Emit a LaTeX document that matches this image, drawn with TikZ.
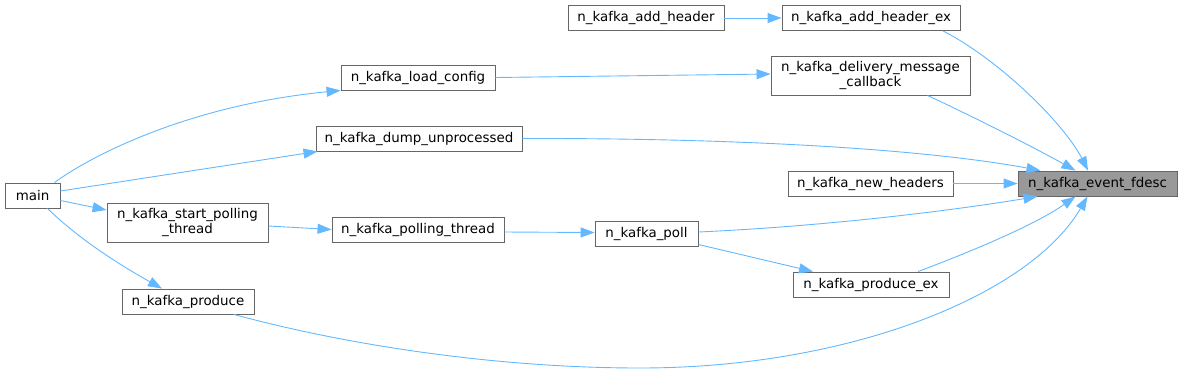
\documentclass[tikz,border=0pt]{standalone}
\usepackage{fontspec}
\setmainfont{DejaVu Sans}
\usetikzlibrary{arrows.meta,calc}
\definecolor{edgeblue}{HTML}{63B8FF}
\definecolor{boxborder}{HTML}{666666}
\definecolor{rootfill}{HTML}{999999}
\begin{document}
\begin{tikzpicture}[x=1pt,y=-1pt,
  box/.style={draw=boxborder,line width=0.9pt,fill=white,rectangle,inner sep=0pt,
    minimum height=25pt,align=center,font=\fontsize{13.4}{15.5}\selectfont},
  tall/.style={minimum height=39pt},
  root/.style={fill=rootfill},
  edge/.style={draw=edgeblue,line width=0.9pt,-{Triangle[length=14pt,width=10pt]}}]
\useasboundingbox (0,0) rectangle (1183,373);
\node[box,root,minimum width=159pt] (fdesc) at (1097.5,183.5) {n\_kafka\_event\_fdesc};
\node[box,minimum width=156pt] (addh) at (646,18) {n\_kafka\_add\_header};
\node[box,minimum width=178pt] (addhex) at (871,18) {n\_kafka\_add\_header\_ex};
\node[box,tall,minimum width=199pt] (deliv) at (870.5,75.5) {n\_kafka\_delivery\_message\\\_callback};
\node[box,minimum width=154pt] (load) at (418,77.5) {n\_kafka\_load\_config};
\node[box,minimum width=206pt] (dump) at (419,138.5) {n\_kafka\_dump\_unprocessed};
\node[box,minimum width=165pt] (newh) at (870.5,183.5) {n\_kafka\_new\_headers};
\node[box,minimum width=55pt] (main) at (32.5,195.5) {main};
\node[box,tall,minimum width=161pt] (start) at (187.5,222.5) {n\_kafka\_start\_polling\\\_thread};
\node[box,minimum width=172pt] (polling) at (418,229.5) {n\_kafka\_polling\_thread};
\node[box,minimum width=103pt] (poll) at (646.5,233.5) {n\_kafka\_poll};
\node[box,minimum width=156pt] (prodex) at (871,284.5) {n\_kafka\_produce\_ex};
\node[box,minimum width=132pt] (prod) at (188,301.5) {n\_kafka\_produce};

\draw[edge] (addh.east) -- (addhex.west);
\draw[edge] ([xshift=72pt]addhex.south) .. controls (1000,60) and (1065,125) .. ([xshift=-9.5pt]fdesc.north);
\draw[edge] ([xshift=57pt]deliv.south) .. controls (980,120) and (1035,148) .. ([xshift=-22pt]fdesc.north);
\draw[edge] (dump.east) .. controls (750,138) and (930,150) .. ([xshift=-57pt]fdesc.north);
\draw[edge] (newh.east) -- (fdesc.west);
\draw[edge] ([yshift=1.5pt]poll.east) .. controls (850,225) and (980,206) .. ([xshift=-60pt]fdesc.south);
\draw[edge] ([xshift=47pt]prodex.north) .. controls (970,252) and (1035,225) .. ([xshift=-22pt]fdesc.south);
\draw[edge] ([xshift=46pt]prod.south) .. controls (350,346) and (500,368) .. (640,368)
  .. controls (850,368) and (1030,295) .. ([xshift=-10pt]fdesc.south);
\draw[edge] (load.east) -- ([yshift=1.5pt]deliv.west);
\draw[edge] ([xshift=22pt]main.north) .. controls (92,155) and (190,105) .. (load.south west);
\draw[edge] ([yshift=4.5pt]main.east) -- ([xshift=2pt]dump.south west);
\draw[edge] ([yshift=-5pt]main.east) -- ([yshift=12.5pt]start.west);
\draw[edge] ([xshift=15pt]main.south) .. controls (80,240) and (120,265) .. ([xshift=-26pt]prod.north);
\draw[edge] ([yshift=-3.5pt]start.east) -- (polling.west);
\draw[edge] ([yshift=-2.5pt]polling.east) -- ([yshift=1pt]poll.west);
\draw[edge] ([yshift=-11pt]poll.east) -- ([xshift=-58pt]prodex.north);
\end{tikzpicture}
\end{document}
